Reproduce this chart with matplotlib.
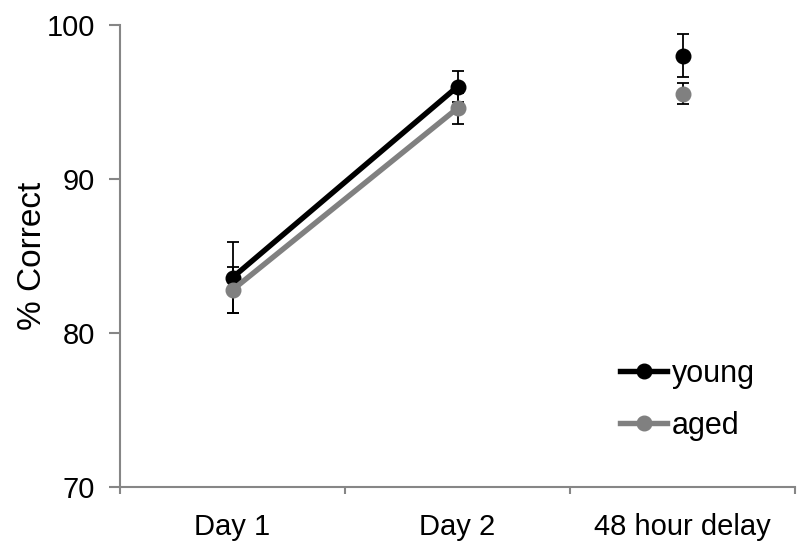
import matplotlib
matplotlib.use("Agg")
import matplotlib.pyplot as plt
import numpy as np

plt.rcParams['font.family'] = ['Liberation Sans', 'DejaVu Sans']

categories = ["Day 1", "Day 2", "48 hour delay"]
young = [83.6, 96.0, 98.0]
young_err = [2.3, 1.0, 1.4]
aged = [82.8, 94.6, 95.55]
aged_err = [1.5, 1.0, 0.65]
yticks = [70, 80, 90, 100]

x = np.arange(len(categories))

fig = plt.figure(figsize=(8, 5.55), dpi=100)
ax = fig.add_axes([0.15, 0.1225, 0.844, 0.8325])

LW = 3.9
ax.plot(x[:2], young[:2], color='black', lw=LW, zorder=2, solid_capstyle='butt')
ax.errorbar(x, young, yerr=young_err, fmt='none', ecolor='black', elinewidth=1.3,
            capsize=4.5, capthick=1.3, zorder=3)
ax.plot(x, young, 'o', color='black', ms=10.5, zorder=3)
ax.errorbar(x, aged, yerr=aged_err, fmt='none', ecolor='black', elinewidth=1.3,
            capsize=4.5, capthick=1.3, zorder=4)
ax.plot(x[:2], aged[:2], color='#808080', lw=LW, zorder=5, solid_capstyle='butt')
ax.plot(x, aged, 'o', color='#808080', ms=10.5, zorder=5)

# legend proxies
hy, = ax.plot([], [], '-o', color='black', lw=LW, ms=10.5, label='young')
ha, = ax.plot([], [], '-o', color='#808080', lw=LW, ms=10.5, label='aged')
fig.legend(handles=[hy, ha], loc='center left', bbox_to_anchor=(0.756, 0.2795),
           frameon=False, fontsize=22, handlelength=1.55, handletextpad=0.15,
           labelspacing=0.7, borderpad=0)

ax.set_xlim(-0.5, 2.5)
ax.set_ylim(70, 100)
ax.set_yticks(yticks)
ax.set_yticklabels([str(v) for v in yticks], fontsize=21)
ax.set_xticks([-0.5, 0.5, 1.5, 2.5])
ax.set_xticklabels([])
ax.set_xticks(x, minor=True)
ax.set_xticklabels(categories, minor=True, fontsize=21)
ax.tick_params(axis='x', which='minor', length=0, pad=19)
ax.tick_params(axis='x', which='major', length=5, width=1.5, color='#868686', direction='out')
ax.tick_params(axis='y', length=8, width=1.5, color='#868686', direction='out', pad=10)

for s in ['top', 'right']:
    ax.spines[s].set_visible(False)
for s in ['left', 'bottom']:
    ax.spines[s].set_color('#868686')
    ax.spines[s].set_linewidth(1.5)

ax.set_ylabel('% Correct', fontsize=24)
ax.yaxis.set_label_coords(-0.107, 0.5)

fig.savefig('out.png', dpi=100)
